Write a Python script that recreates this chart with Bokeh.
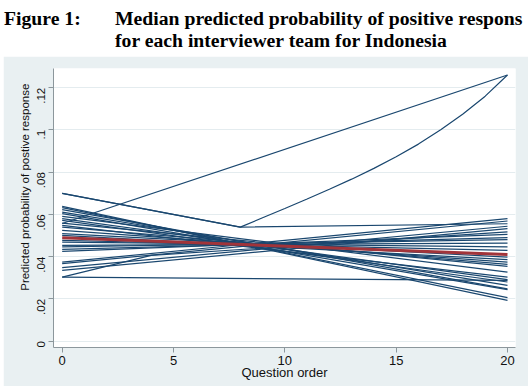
import math
from bokeh.plotting import figure
from bokeh.models import Range1d, FixedTicker, CustomJSTickFormatter, Label, Spacer
from bokeh.layouts import column, row
from bokeh.embed import file_html
from bokeh.resources import INLINE

# ---------------- data ----------------
title_label = "Figure 1:"
title_line1 = "Median predicted probability of positive respons"
title_line2 = "for each interviewer team for Indonesia"
x_label = "Question order"
y_label = "Predicted probability of postive response"

x_ticks = [0, 5, 10, 15, 20]
y_ticks = [0, 0.02, 0.04, 0.06, 0.08, 0.10, 0.12]

# straight team lines: value at question order 0 and at 20
team_x = [0, 20]
team_start = [0.0638, 0.0632, 0.0623, 0.0611, 0.0604, 0.0591, 0.0580, 0.0572,
              0.0559, 0.0557, 0.0548, 0.0540, 0.0525, 0.0509, 0.0501, 0.0477,
              0.0469, 0.0454, 0.0446, 0.0435, 0.0425, 0.0374, 0.0367, 0.0348,
              0.0335, 0.0303]
team_end = [0.0193, 0.0206, 0.0248, 0.0264, 0.0244, 0.0327, 0.0291, 0.0280,
            0.0354, 0.1260, 0.0303, 0.0364, 0.0374, 0.0398, 0.0386, 0.0430,
            0.0446, 0.0464, 0.0481, 0.0490, 0.0506, 0.0580, 0.0569, 0.0544,
            0.0533, 0.0288]

# teams with bent lines
curve_a_x = [0, 8, 9, 10, 11, 12, 13, 14, 15, 16, 17, 18, 19, 20]
curve_a_y = [0.0700, 0.0540, 0.0584, 0.0628, 0.0673, 0.0719, 0.0767, 0.0818,
             0.0873, 0.0933, 0.1001, 0.1076, 0.1160, 0.1260]
curve_b_x = [0, 8, 20]
curve_b_y = [0.0700, 0.0540, 0.0556]
curve_c_x = [0, 4, 20]
curve_c_y = [0.0303, 0.0406, 0.0517]

# overall median
median_x = [0, 20]
median_y = [0.0490, 0.0410]

# ---------------- style ----------------
BG = "#e9f0f2"
NAVY = "#1a476f"
RED = "#a1343a"
AXIS = "#8c979c"
GRID = "#e4ecef"
FONT = "Liberation Sans"
NB = "\u00a0"

# ---------------- title strip ----------------
t = figure(width=528, height=56, x_range=Range1d(0, 528), y_range=Range1d(56, 0),
           x_axis_type=None, y_axis_type=None,
           output_backend="svg", toolbar_location=None, min_border=0)
t.frame_align = False
t.grid.visible = False
t.outline_line_color = None
t.background_fill_color = "white"
t.border_fill_color = "white"
for tx, ty, txt in [(3.5, 17.5, title_label), (114.5, 17.5, title_line1), (114.5, 39.7, title_line2)]:
    t.add_layout(Label(x=tx, y=ty, text=txt, text_font="Liberation Serif",
                       text_font_style="bold", text_font_size="19.7px", text_color="black",
                       text_baseline="alphabetic", text_align="left"))

# ---------------- main chart ----------------
p = figure(width=525, height=330, x_range=Range1d(-0.39, 20.36),
           y_range=Range1d(-0.0030, 0.1291), output_backend="svg",
           toolbar_location=None, min_border_left=50, min_border_right=13,
           min_border_top=12, min_border_bottom=39)
p.frame_align = False
p.background_fill_color = "white"
p.border_fill_color = BG
p.outline_line_color = None

xs = [team_x for _ in team_start] + [curve_a_x, curve_b_x, curve_c_x]
ys = [[s, e] for s, e in zip(team_start, team_end)] + [curve_a_y, curve_b_y, curve_c_y]
p.multi_line(xs=xs, ys=ys, line_color=NAVY, line_width=1.2)
p.line(median_x, median_y, line_color=RED, line_width=3)

p.xaxis.ticker = FixedTicker(ticks=x_ticks)
p.yaxis.ticker = FixedTicker(ticks=y_ticks)
p.yaxis.formatter = CustomJSTickFormatter(code="""
if (Math.abs(tick) < 1e-9) return "0";
const s = (Math.round(tick * 100) / 100).toString();
return s.replace(/^0/, "");
""")
p.yaxis.major_label_orientation = math.pi / 2
p.xaxis.axis_label = x_label
p.yaxis.axis_label = NB * 13 + y_label
for ax in (p.xaxis, p.yaxis):
    ax.axis_line_color = AXIS
    ax.major_tick_line_color = AXIS
    ax.minor_tick_line_color = None
    ax.major_tick_in = 0
    ax.major_tick_out = 5
    ax.major_label_text_font = FONT
    ax.axis_label_text_font = FONT
    ax.axis_label_text_font_style = "normal"
    ax.major_label_text_color = "#111111"
    ax.axis_label_text_color = "#111111"
p.xaxis.major_label_text_font_size = "13px"
p.xaxis.axis_label_text_font_size = "13px"
p.xaxis.major_label_standoff = 3
p.xaxis.axis_label_standoff = -3
p.yaxis.major_label_text_font_size = "11.5px"
p.yaxis.axis_label_text_font_size = "11.5px"
p.yaxis.major_label_standoff = 7
p.yaxis.axis_label_standoff = 0
p.xgrid.visible = False
p.ygrid.grid_line_color = GRID
p.ygrid.grid_line_width = 1

layout = column(t, row(Spacer(width=3, height=330), p, spacing=0), spacing=0)
open("out.html", "w").write(file_html(layout, INLINE))
